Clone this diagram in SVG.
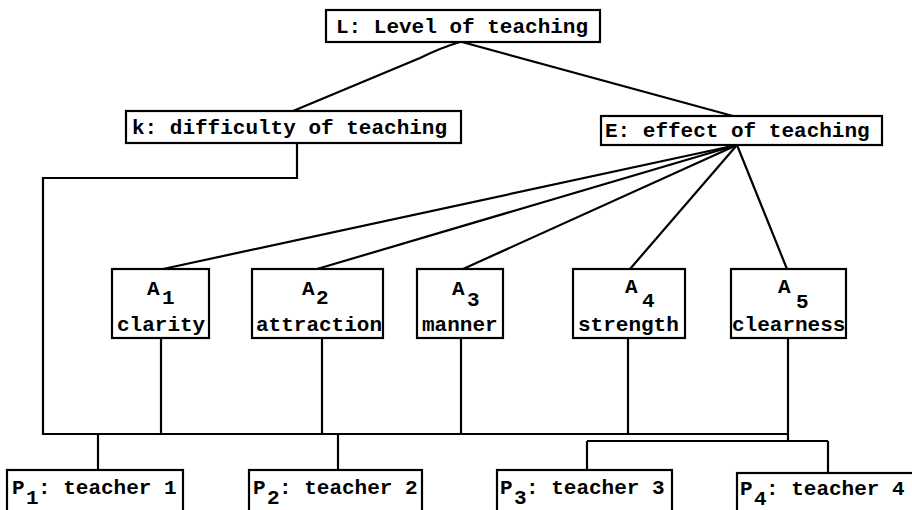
<svg xmlns="http://www.w3.org/2000/svg" width="912" height="510" viewBox="0 0 912 510">
<style>
.box{fill:#fff;stroke:#000;stroke-width:2.2}
.t{font-family:"Liberation Mono","Courier New",monospace;font-weight:bold;font-size:21px;fill:#000}
.c{fill:none;stroke:#000;stroke-width:2.2;stroke-linejoin:miter}
</style>
<rect width="912" height="510" fill="#fff"/>
<g id="connectors">
<path class="c" d="M460,42 Q440,48 420,58 L293,111"/>
<line class="c" x1="462" y1="42" x2="733" y2="116"/>
<line class="c" x1="737" y1="145" x2="163" y2="269"/>
<line class="c" x1="737" y1="145" x2="317" y2="269"/>
<line class="c" x1="737" y1="145" x2="463" y2="269"/>
<line class="c" x1="737" y1="145" x2="630" y2="269"/>
<line class="c" x1="737" y1="145" x2="787" y2="269"/>
<polyline class="c" points="297,143 297,178 43,178 43,434 788,434"/>
<line class="c" x1="161" y1="338" x2="161" y2="434"/>
<line class="c" x1="322" y1="338" x2="322" y2="434"/>
<line class="c" x1="461" y1="338" x2="461" y2="434"/>
<line class="c" x1="628" y1="338" x2="628" y2="434"/>
<line class="c" x1="788" y1="338" x2="788" y2="441"/>
<line class="c" x1="587" y1="441" x2="828" y2="441"/>
<line class="c" x1="98" y1="434" x2="98" y2="470"/>
<line class="c" x1="338" y1="434" x2="338" y2="470"/>
<line class="c" x1="587" y1="441" x2="587" y2="470"/>
<line class="c" x1="828" y1="441" x2="828" y2="473"/>
</g>
<g id="L">
<rect class="box" x="326" y="10" width="274" height="32"/>
<text class="t" x="336" y="33">L: Level of teaching</text>
</g>
<g id="k">
<rect class="box" x="126" y="111" width="335" height="32"/>
<text class="t" x="132" y="134">k: difficulty of teaching</text>
</g>
<g id="E">
<rect class="box" x="601" y="116" width="281" height="29"/>
<text class="t" x="605" y="137">E: effect of teaching</text>
</g>
<g id="A1">
<rect class="box" x="112" y="269" width="97" height="69"/>
<text class="t" x="147" y="295">A</text><text class="t" x="162" y="304">1</text>
<text class="t" x="117" y="331">clarity</text>
</g>
<g id="A2">
<rect class="box" x="252" y="269" width="131" height="69"/>
<text class="t" x="302" y="295">A</text><text class="t" x="316" y="304">2</text>
<text class="t" x="256" y="331">attraction</text>
</g>
<g id="A3">
<rect class="box" x="417" y="269" width="86" height="69"/>
<text class="t" x="452" y="295">A</text><text class="t" x="467" y="306">3</text>
<text class="t" x="422" y="331">manner</text>
</g>
<g id="A4">
<rect class="box" x="573" y="269" width="112" height="69"/>
<text class="t" x="625" y="293">A</text><text class="t" x="642" y="307">4</text>
<text class="t" x="578" y="331">strength</text>
</g>
<g id="A5">
<rect class="box" x="731" y="269" width="115" height="69"/>
<text class="t" x="778" y="293">A</text><text class="t" x="796" y="308">5</text>
<text class="t" x="732" y="331">clearness</text>
</g>
<g id="P1">
<rect class="box" x="7" y="470" width="176" height="60"/>
<text class="t" x="12" y="494">P</text><text class="t" x="26" y="504">1</text><text class="t" x="38" y="494">: teacher 1</text>
</g>
<g id="P2">
<rect class="box" x="249" y="470" width="173" height="60"/>
<text class="t" x="253" y="494">P</text><text class="t" x="267" y="504">2</text><text class="t" x="279" y="494">: teacher 2</text>
</g>
<g id="P3">
<rect class="box" x="497" y="470" width="175" height="60"/>
<text class="t" x="500" y="494">P</text><text class="t" x="514" y="504">3</text><text class="t" x="526" y="494">: teacher 3</text>
</g>
<g id="P4">
<rect class="box" x="737" y="473" width="185" height="60"/>
<text class="t" x="740" y="495">P</text><text class="t" x="754" y="505">4</text><text class="t" x="766" y="495">: teacher 4</text>
</g>
</svg>
